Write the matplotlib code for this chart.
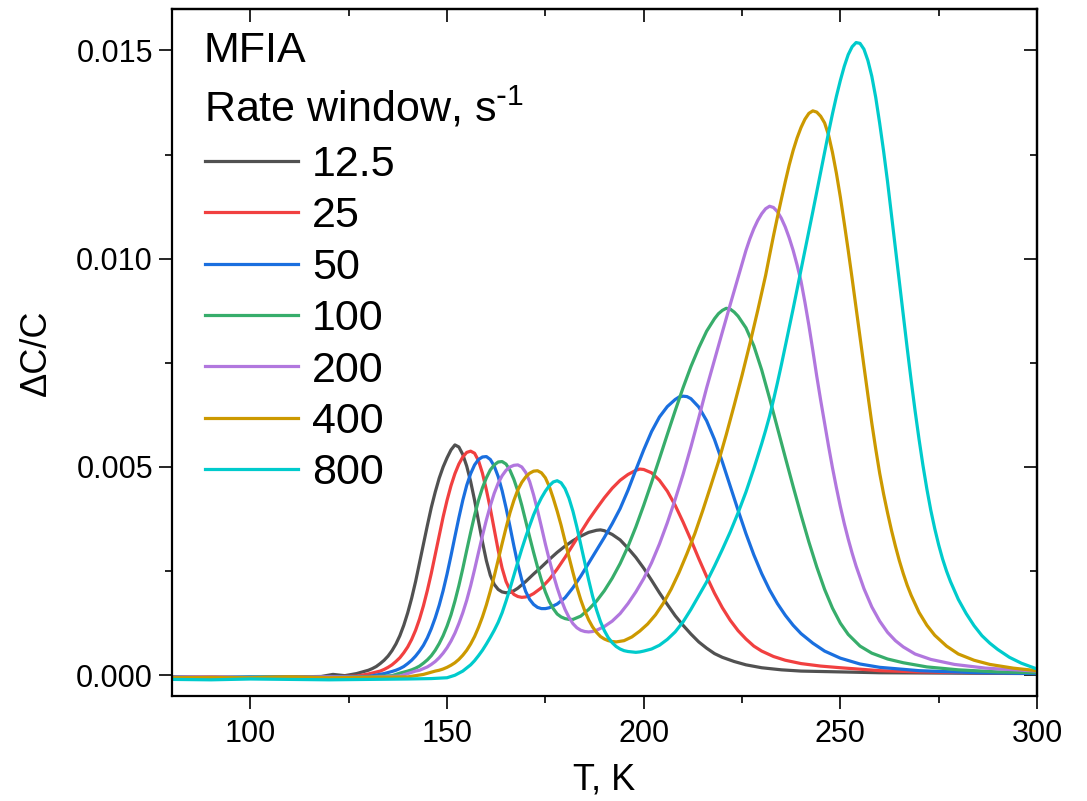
import numpy as np
import matplotlib
matplotlib.use("Agg")
import matplotlib.pyplot as plt
from matplotlib.ticker import MultipleLocator, FormatStrFormatter, NullFormatter

plt.rcParams['font.family'] = ['Liberation Sans', 'DejaVu Sans']
plt.rcParams['mathtext.default'] = 'regular'

# DLTS spectra: (T in K, dC/C)
pts_12 = [(80, -0.00004), (90, -0.00006), (100, -0.00005), (110, -0.00004), (118, -0.00003),
          (121, 0.00002), (124, -0.00001), (127, 0.00004), (130, 0.00012), (131, 0.00016),
          (132, 0.00021), (133, 0.00028), (134, 0.00036), (135, 0.00046), (136, 0.00059),
          (137, 0.00075), (138, 0.00095), (139, 0.0012), (140, 0.0015), (141, 0.00185),
          (142, 0.00225), (143, 0.0027), (144, 0.00315), (145, 0.0036), (146, 0.00403),
          (147, 0.0044), (148, 0.00473), (149, 0.005), (150, 0.00522), (151, 0.00541),
          (152, 0.00553), (153, 0.00548), (154, 0.0053), (155, 0.00502), (156, 0.00465),
          (157, 0.0042), (158, 0.0037), (159, 0.0032), (160, 0.00275), (161, 0.0024),
          (162, 0.00218), (163, 0.00206), (164, 0.002), (165, 0.00198), (166, 0.00199),
          (167, 0.00203), (168, 0.00209), (170, 0.00225), (172, 0.00243), (174, 0.0026),
          (176, 0.00278), (178, 0.00295), (180, 0.0031), (182, 0.00323), (184, 0.00334),
          (186, 0.00343), (188, 0.00348), (189, 0.00349), (190, 0.00347), (192, 0.00338),
          (194, 0.00325), (196, 0.00305), (198, 0.00283), (200, 0.00257), (202, 0.00228),
          (204, 0.00198), (206, 0.0017), (208, 0.00143), (210, 0.0012), (212, 0.00099),
          (214, 0.0008), (216, 0.00065), (218, 0.00052), (220, 0.00043), (223, 0.00033),
          (226, 0.00025), (230, 0.00018), (235, 0.00013), (240, 0.0001), (250, 0.00008),
          (260, 0.00006), (280, 0.00005), (300, 0.00004)]

pts_25 = [(80, -0.00005), (90, -0.00004), (100, -0.00006), (110, -0.00004), (120, -0.00004),
          (127, -0.00002), (130, 0.00003), (133, 0.0001), (134, 0.00014), (135, 0.00019),
          (136, 0.00025), (137, 0.00033), (138, 0.00042), (139, 0.00054), (140, 0.00068),
          (141, 0.00086), (142, 0.00108), (143, 0.00135), (144, 0.00167), (145, 0.00204),
          (146, 0.00245), (147, 0.0029), (148, 0.00335), (149, 0.0038), (150, 0.0042),
          (151, 0.00455), (152, 0.00484), (153, 0.00507), (154, 0.00524), (155, 0.00535),
          (156, 0.00538), (157, 0.00533), (158, 0.00515), (159, 0.00485), (160, 0.00445),
          (161, 0.004), (162, 0.0035), (163, 0.003), (164, 0.00257), (165, 0.00225),
          (166, 0.00205), (167, 0.00194), (168, 0.00189), (169, 0.00187), (170, 0.00188),
          (171, 0.00191), (172, 0.00196), (174, 0.0021), (176, 0.0023), (178, 0.00255),
          (180, 0.00283), (182, 0.00313), (184, 0.00343), (186, 0.00373), (188, 0.004),
          (190, 0.00426), (192, 0.00449), (194, 0.00468), (196, 0.00482), (198, 0.00492),
          (199, 0.00495), (200, 0.00494), (202, 0.00486), (204, 0.00468), (206, 0.00442),
          (208, 0.00408), (210, 0.00368), (212, 0.00325), (214, 0.0028), (216, 0.00237),
          (218, 0.00197), (220, 0.00162), (222, 0.00132), (224, 0.00107), (226, 0.00087),
          (228, 0.0007), (230, 0.00058), (233, 0.00045), (236, 0.00036), (240, 0.00028),
          (245, 0.00022), (250, 0.00018), (260, 0.00011), (270, 0.00008), (285, 0.00006),
          (300, 0.00005)]

pts_50 = [(80, -0.00005), (90, -0.00005), (100, -0.00004), (110, -0.00006), (120, -0.00004),
          (130, -0.00003), (134, 0.00004), (136, 0.00009), (137, 0.00012), (138, 0.00016),
          (139, 0.00021), (140, 0.00028), (141, 0.00036), (142, 0.00046), (143, 0.00058),
          (144, 0.00072), (145, 0.0009), (146, 0.00112), (147, 0.00138), (148, 0.00168),
          (149, 0.00203), (150, 0.00243), (151, 0.00287), (152, 0.00333), (153, 0.00378),
          (154, 0.0042), (155, 0.00456), (156, 0.00484), (157, 0.00505), (158, 0.00518),
          (159, 0.00524), (160, 0.00525), (161, 0.00518), (162, 0.00502), (163, 0.00477),
          (164, 0.00443), (165, 0.00402), (166, 0.00357), (167, 0.0031), (168, 0.00266),
          (169, 0.00229), (170, 0.00201), (171, 0.00182), (172, 0.0017), (173, 0.00163),
          (174, 0.0016), (175, 0.0016), (176, 0.00162), (178, 0.00171), (180, 0.00186),
          (182, 0.0021), (184, 0.00238), (186, 0.00269), (188, 0.003), (190, 0.00331),
          (192, 0.00364), (194, 0.004), (196, 0.00444), (198, 0.00493), (200, 0.00541),
          (202, 0.00585), (204, 0.0062), (206, 0.00645), (208, 0.00662), (209, 0.00668),
          (210, 0.0067), (211, 0.00669), (212, 0.00664), (214, 0.00644), (216, 0.00611),
          (218, 0.00566), (220, 0.00512), (222, 0.00454), (224, 0.00396), (226, 0.0034),
          (228, 0.00289), (230, 0.00244), (232, 0.00205), (234, 0.00172), (236, 0.00144),
          (238, 0.0012), (240, 0.001), (243, 0.00077), (246, 0.00058), (250, 0.00041),
          (255, 0.00027), (260, 0.00019), (270, 0.00011), (285, 0.00006), (300, 0.00004)]

pts_100 = [(80, -0.00005), (90, -0.00006), (100, -0.00005), (110, -0.00004), (120, -0.00005),
           (130, -0.00004), (136, -0.00001), (138, 0.00005), (140, 0.0001), (141, 0.00013),
           (142, 0.00017), (143, 0.00022), (144, 0.00029), (145, 0.00037), (146, 0.00047),
           (147, 0.0006), (148, 0.00076), (149, 0.00095), (150, 0.00118), (151, 0.00145),
           (152, 0.00178), (153, 0.00215), (154, 0.00256), (155, 0.003), (156, 0.00343),
           (157, 0.00384), (158, 0.0042), (159, 0.0045), (160, 0.00474), (161, 0.00493),
           (162, 0.00505), (163, 0.00512), (164, 0.00513), (165, 0.00507), (166, 0.00492),
           (167, 0.0047), (168, 0.00442), (169, 0.00408), (170, 0.0037), (171, 0.00332),
           (172, 0.00295), (173, 0.0026), (174, 0.00228), (175, 0.002), (176, 0.00177),
           (177, 0.0016), (178, 0.00147), (179, 0.0014), (180, 0.00136), (181, 0.00134),
           (182, 0.00134), (184, 0.00142), (186, 0.00158), (188, 0.00178), (190, 0.00203),
           (192, 0.00233), (194, 0.00268), (196, 0.00309), (198, 0.00356), (200, 0.00408),
           (202, 0.00463), (204, 0.0052), (206, 0.00578), (208, 0.00635), (210, 0.0069),
           (212, 0.00741), (214, 0.00786), (216, 0.00826), (218, 0.00856), (219, 0.00868),
           (220, 0.00876), (221, 0.00881), (222, 0.00879), (223, 0.00872), (224, 0.00862),
           (226, 0.00834), (228, 0.00791), (230, 0.00733), (232, 0.00665), (234, 0.00594),
           (236, 0.00523), (238, 0.00453), (240, 0.00385), (242, 0.0032), (244, 0.0026),
           (246, 0.00206), (248, 0.00161), (250, 0.00125), (252, 0.00098), (255, 0.0007),
           (258, 0.00053), (262, 0.00039), (266, 0.0003), (272, 0.0002), (280, 0.00013),
           (290, 0.00008), (300, 0.00006)]

pts_200 = [(80, -0.00005), (90, -0.00004), (100, -0.00006), (110, -0.00005), (120, -0.00004),
           (130, -0.00005), (138, -0.00002), (140, 0.00004), (142, 0.0001), (143, 0.00012),
           (144, 0.00016), (145, 0.0002), (146, 0.00026), (147, 0.00033), (148, 0.00042),
           (149, 0.00053), (150, 0.00066), (151, 0.00082), (152, 0.00101), (153, 0.00124),
           (154, 0.0015), (155, 0.0018), (156, 0.00215), (157, 0.00254), (158, 0.00295),
           (159, 0.00335), (160, 0.00373), (161, 0.00407), (162, 0.00437), (163, 0.00461),
           (164, 0.00479), (165, 0.00492), (166, 0.005), (167, 0.00504), (168, 0.00505),
           (169, 0.005), (170, 0.00487), (171, 0.00465), (172, 0.00433), (173, 0.00396),
           (174, 0.00356), (175, 0.00315), (176, 0.00277), (177, 0.00242), (178, 0.0021),
           (179, 0.00182), (180, 0.00158), (181, 0.00139), (182, 0.00124), (183, 0.00114),
           (184, 0.00108), (185, 0.00105), (186, 0.00104), (187, 0.00105), (188, 0.00108),
           (190, 0.00117), (192, 0.0013), (194, 0.00148), (196, 0.00172), (198, 0.002),
           (200, 0.00232), (202, 0.0027), (204, 0.00315), (206, 0.00366), (208, 0.00422),
           (210, 0.00482), (212, 0.00548), (214, 0.00618), (216, 0.0069), (218, 0.00757),
           (220, 0.00824), (222, 0.0089), (224, 0.00955), (226, 0.0102), (227, 0.01048),
           (228, 0.01072), (229, 0.01092), (230, 0.01108), (231, 0.0112), (232, 0.01126),
           (233, 0.01123), (234, 0.01113), (235, 0.01097), (236, 0.01076), (237, 0.0105),
           (238, 0.0102), (239, 0.00985), (240, 0.00946), (241, 0.00895), (242, 0.0084),
           (243, 0.0078), (244, 0.00718), (245, 0.0066), (246, 0.00605), (247, 0.0055),
           (248, 0.00498), (249, 0.0045), (250, 0.00405), (251, 0.00364), (252, 0.00327),
           (253, 0.00293), (254, 0.00262), (256, 0.00208), (258, 0.00164), (260, 0.0013),
           (262, 0.00103), (264, 0.00083), (266, 0.00068), (269, 0.00051), (273, 0.00038),
           (279, 0.00026), (287, 0.00017), (300, 0.0001)]

pts_400 = [(80, -0.00006), (90, -0.00005), (100, -0.00006), (110, -0.00004), (120, -0.00006),
           (130, -0.00005), (140, -0.00004), (144, 0.00002), (147, 0.0001), (148, 0.00012),
           (149, 0.00015), (150, 0.00019), (151, 0.00024), (152, 0.0003), (153, 0.00038),
           (154, 0.00048), (155, 0.0006), (156, 0.00075), (157, 0.00093), (158, 0.00115),
           (159, 0.0014), (160, 0.00169), (161, 0.00202), (162, 0.00238), (163, 0.00277),
           (164, 0.00316), (165, 0.00354), (166, 0.0039), (167, 0.0042), (168, 0.00445),
           (169, 0.00463), (170, 0.00476), (171, 0.00485), (172, 0.0049), (173, 0.00491),
           (174, 0.00486), (175, 0.00474), (176, 0.00453), (177, 0.00425), (178, 0.00394),
           (179, 0.0036), (180, 0.00322), (181, 0.00284), (182, 0.00247), (183, 0.00212),
           (184, 0.00181), (185, 0.00155), (186, 0.00133), (187, 0.00116), (188, 0.00103),
           (189, 0.00093), (190, 0.00087), (191, 0.00083), (192, 0.00081), (193, 0.0008),
           (195, 0.00083), (197, 0.00092), (199, 0.00106), (201, 0.00123), (203, 0.00145),
           (205, 0.00173), (207, 0.00207), (209, 0.00247), (211, 0.00292), (213, 0.0034),
           (215, 0.00395), (217, 0.00453), (219, 0.00512), (221, 0.00578), (223, 0.00648),
           (225, 0.0072), (227, 0.00796), (229, 0.00876), (231, 0.0096), (232, 0.01008),
           (233, 0.01055), (234, 0.011), (235, 0.01143), (236, 0.01185), (237, 0.01225),
           (238, 0.0126), (239, 0.0129), (240, 0.01315), (241, 0.01335), (242, 0.01349),
           (243, 0.01355), (244, 0.01352), (245, 0.01342), (246, 0.01326), (247, 0.01297),
           (248, 0.01255), (249, 0.01205), (250, 0.01148), (251, 0.01085), (252, 0.0102),
           (253, 0.00952), (254, 0.00882), (255, 0.00812), (256, 0.00742), (257, 0.00673),
           (258, 0.00605), (259, 0.00543), (260, 0.00485), (261, 0.00435), (262, 0.0039),
           (263, 0.00348), (264, 0.0031), (265, 0.00275), (266, 0.00244), (267, 0.00216),
           (268, 0.00192), (270, 0.00151), (272, 0.0012), (274, 0.00096), (277, 0.0007),
           (280, 0.00051), (284, 0.00036), (288, 0.00026), (294, 0.00017), (300, 0.00011)]

pts_800 = [(80, -0.0001), (90, -0.00011), (100, -0.00009), (110, -0.0001), (120, -0.00011),
           (130, -0.0001), (140, -0.00009), (146, -0.00008), (150, -0.00006), (152, 0.0),
           (154, 0.0001), (156, 0.00025), (157, 0.00035), (158, 0.00047), (159, 0.0006),
           (160, 0.00075), (161, 0.00091), (162, 0.00108), (163, 0.00127), (164, 0.0015),
           (165, 0.00178), (166, 0.00208), (167, 0.0024), (168, 0.00272), (169, 0.00303),
           (170, 0.00332), (171, 0.00359), (172, 0.00385), (173, 0.00407), (174, 0.00426),
           (175, 0.00442), (176, 0.00455), (177, 0.00464), (178, 0.00467), (179, 0.00462),
           (180, 0.00448), (181, 0.00425), (182, 0.00394), (183, 0.00356), (184, 0.00314),
           (185, 0.00271), (186, 0.00229), (187, 0.0019), (188, 0.00157), (189, 0.00129),
           (190, 0.00107), (191, 0.0009), (192, 0.00078), (193, 0.00069), (194, 0.00063),
           (195, 0.00059), (196, 0.00057), (197, 0.00056), (198, 0.00055), (199, 0.00056),
           (200, 0.00058), (202, 0.00063), (204, 0.00072), (206, 0.00086), (208, 0.00104),
           (210, 0.00128), (212, 0.00158), (214, 0.00191), (216, 0.00224), (218, 0.00262),
           (220, 0.00302), (222, 0.00344), (224, 0.0039), (226, 0.0044), (228, 0.00496),
           (230, 0.00556), (231, 0.00588), (232, 0.00622), (233, 0.00661), (234, 0.00702),
           (235, 0.00745), (236, 0.0079), (237, 0.00835), (238, 0.0088), (239, 0.00927),
           (240, 0.00974), (241, 0.0102), (242, 0.01066), (243, 0.01113), (244, 0.0116),
           (245, 0.01208), (246, 0.01256), (247, 0.01303), (248, 0.01348), (249, 0.0139),
           (250, 0.01428), (251, 0.01462), (252, 0.0149), (253, 0.01509), (254, 0.01519),
           (255, 0.01517), (256, 0.01503), (257, 0.01476), (258, 0.01438), (259, 0.01387),
           (260, 0.01325), (261, 0.01258), (262, 0.01185), (263, 0.01105), (264, 0.01025),
           (265, 0.00945), (266, 0.00865), (267, 0.00785), (268, 0.00708), (269, 0.00635),
           (270, 0.00567), (271, 0.00504), (272, 0.00447), (273, 0.00396), (274, 0.00352),
           (275, 0.00313), (276, 0.00279), (277, 0.0025), (278, 0.00225), (280, 0.00182),
           (282, 0.00148), (284, 0.00119), (286, 0.00095), (288, 0.00077), (290, 0.00062),
           (293, 0.00043), (296, 0.00029), (300, 0.00015)]

labels = ['12.5', '25', '50', '100', '200', '400', '800']
colors = ['#515151', '#F14040', '#1A6FDF', '#37AD6B', '#B177DE', '#CC9900', '#00CBCC']
curves = [pts_12, pts_25, pts_50, pts_100, pts_200, pts_400, pts_800]

fig = plt.figure(figsize=(10.87, 8.01), dpi=100)
ax = fig.add_axes([0.158, 0.131, 0.796, 0.858])

for pts, lab, c in zip(curves, labels, colors):
    t, v = zip(*pts)
    ax.plot(t, v, color=c, lw=2.3, label=lab)

ax.set_xlim(80, 300)
ax.set_ylim(-0.0005, 0.016)
ax.xaxis.set_major_locator(MultipleLocator(50))
ax.xaxis.set_minor_locator(MultipleLocator(25))
ax.yaxis.set_major_locator(MultipleLocator(0.005))
ax.yaxis.set_minor_locator(MultipleLocator(0.0025))
ax.yaxis.set_major_formatter(FormatStrFormatter('%.3f'))
ax.tick_params(which='major', direction='out', length=9.5, width=1.2, labelsize=22)
ax.tick_params(axis='x', which='major', pad=7)
ax.tick_params(axis='y', which='major', pad=4)
ax.tick_params(which='minor', direction='out', length=5, width=1.2)
for s in ax.spines.values():
    s.set_linewidth(1.6)

# ticks pointing inward on top and right
top = ax.secondary_xaxis('top')
top.xaxis.set_major_locator(MultipleLocator(50))
top.xaxis.set_minor_locator(MultipleLocator(25))
top.xaxis.set_major_formatter(NullFormatter())
top.tick_params(which='major', direction='in', length=9.5, width=1.2)
top.tick_params(which='minor', direction='in', length=5, width=1.2)
right = ax.secondary_yaxis('right')
right.yaxis.set_major_locator(MultipleLocator(0.005))
right.yaxis.set_minor_locator(MultipleLocator(0.0025))
right.yaxis.set_major_formatter(NullFormatter())
right.tick_params(which='major', direction='in', length=9.5, width=1.2)
right.tick_params(which='minor', direction='in', length=5, width=1.2)
for sec in (top, right):
    for s in sec.spines.values():
        s.set_linewidth(1.6)

ax.set_xlabel('T, K', fontsize=26, labelpad=10)
ax.set_ylabel('\u0394C/C', fontsize=26, labelpad=16)

ax.text(0.037, 0.938, 'MFIA', transform=ax.transAxes, fontsize=31, va='center', ha='left')
ax.text(0.037, 0.856, 'Rate window, s$^{\\text{-}1}$', transform=ax.transAxes, fontsize=31,
        va='center', ha='left')
ax.legend(loc='upper left', bbox_to_anchor=(0.038, 0.802), frameon=False, fontsize=31,
          handlelength=2.16, handletextpad=0.33, labelspacing=0.265, borderpad=0,
          borderaxespad=0)

fig.savefig('out.png', dpi=100)
